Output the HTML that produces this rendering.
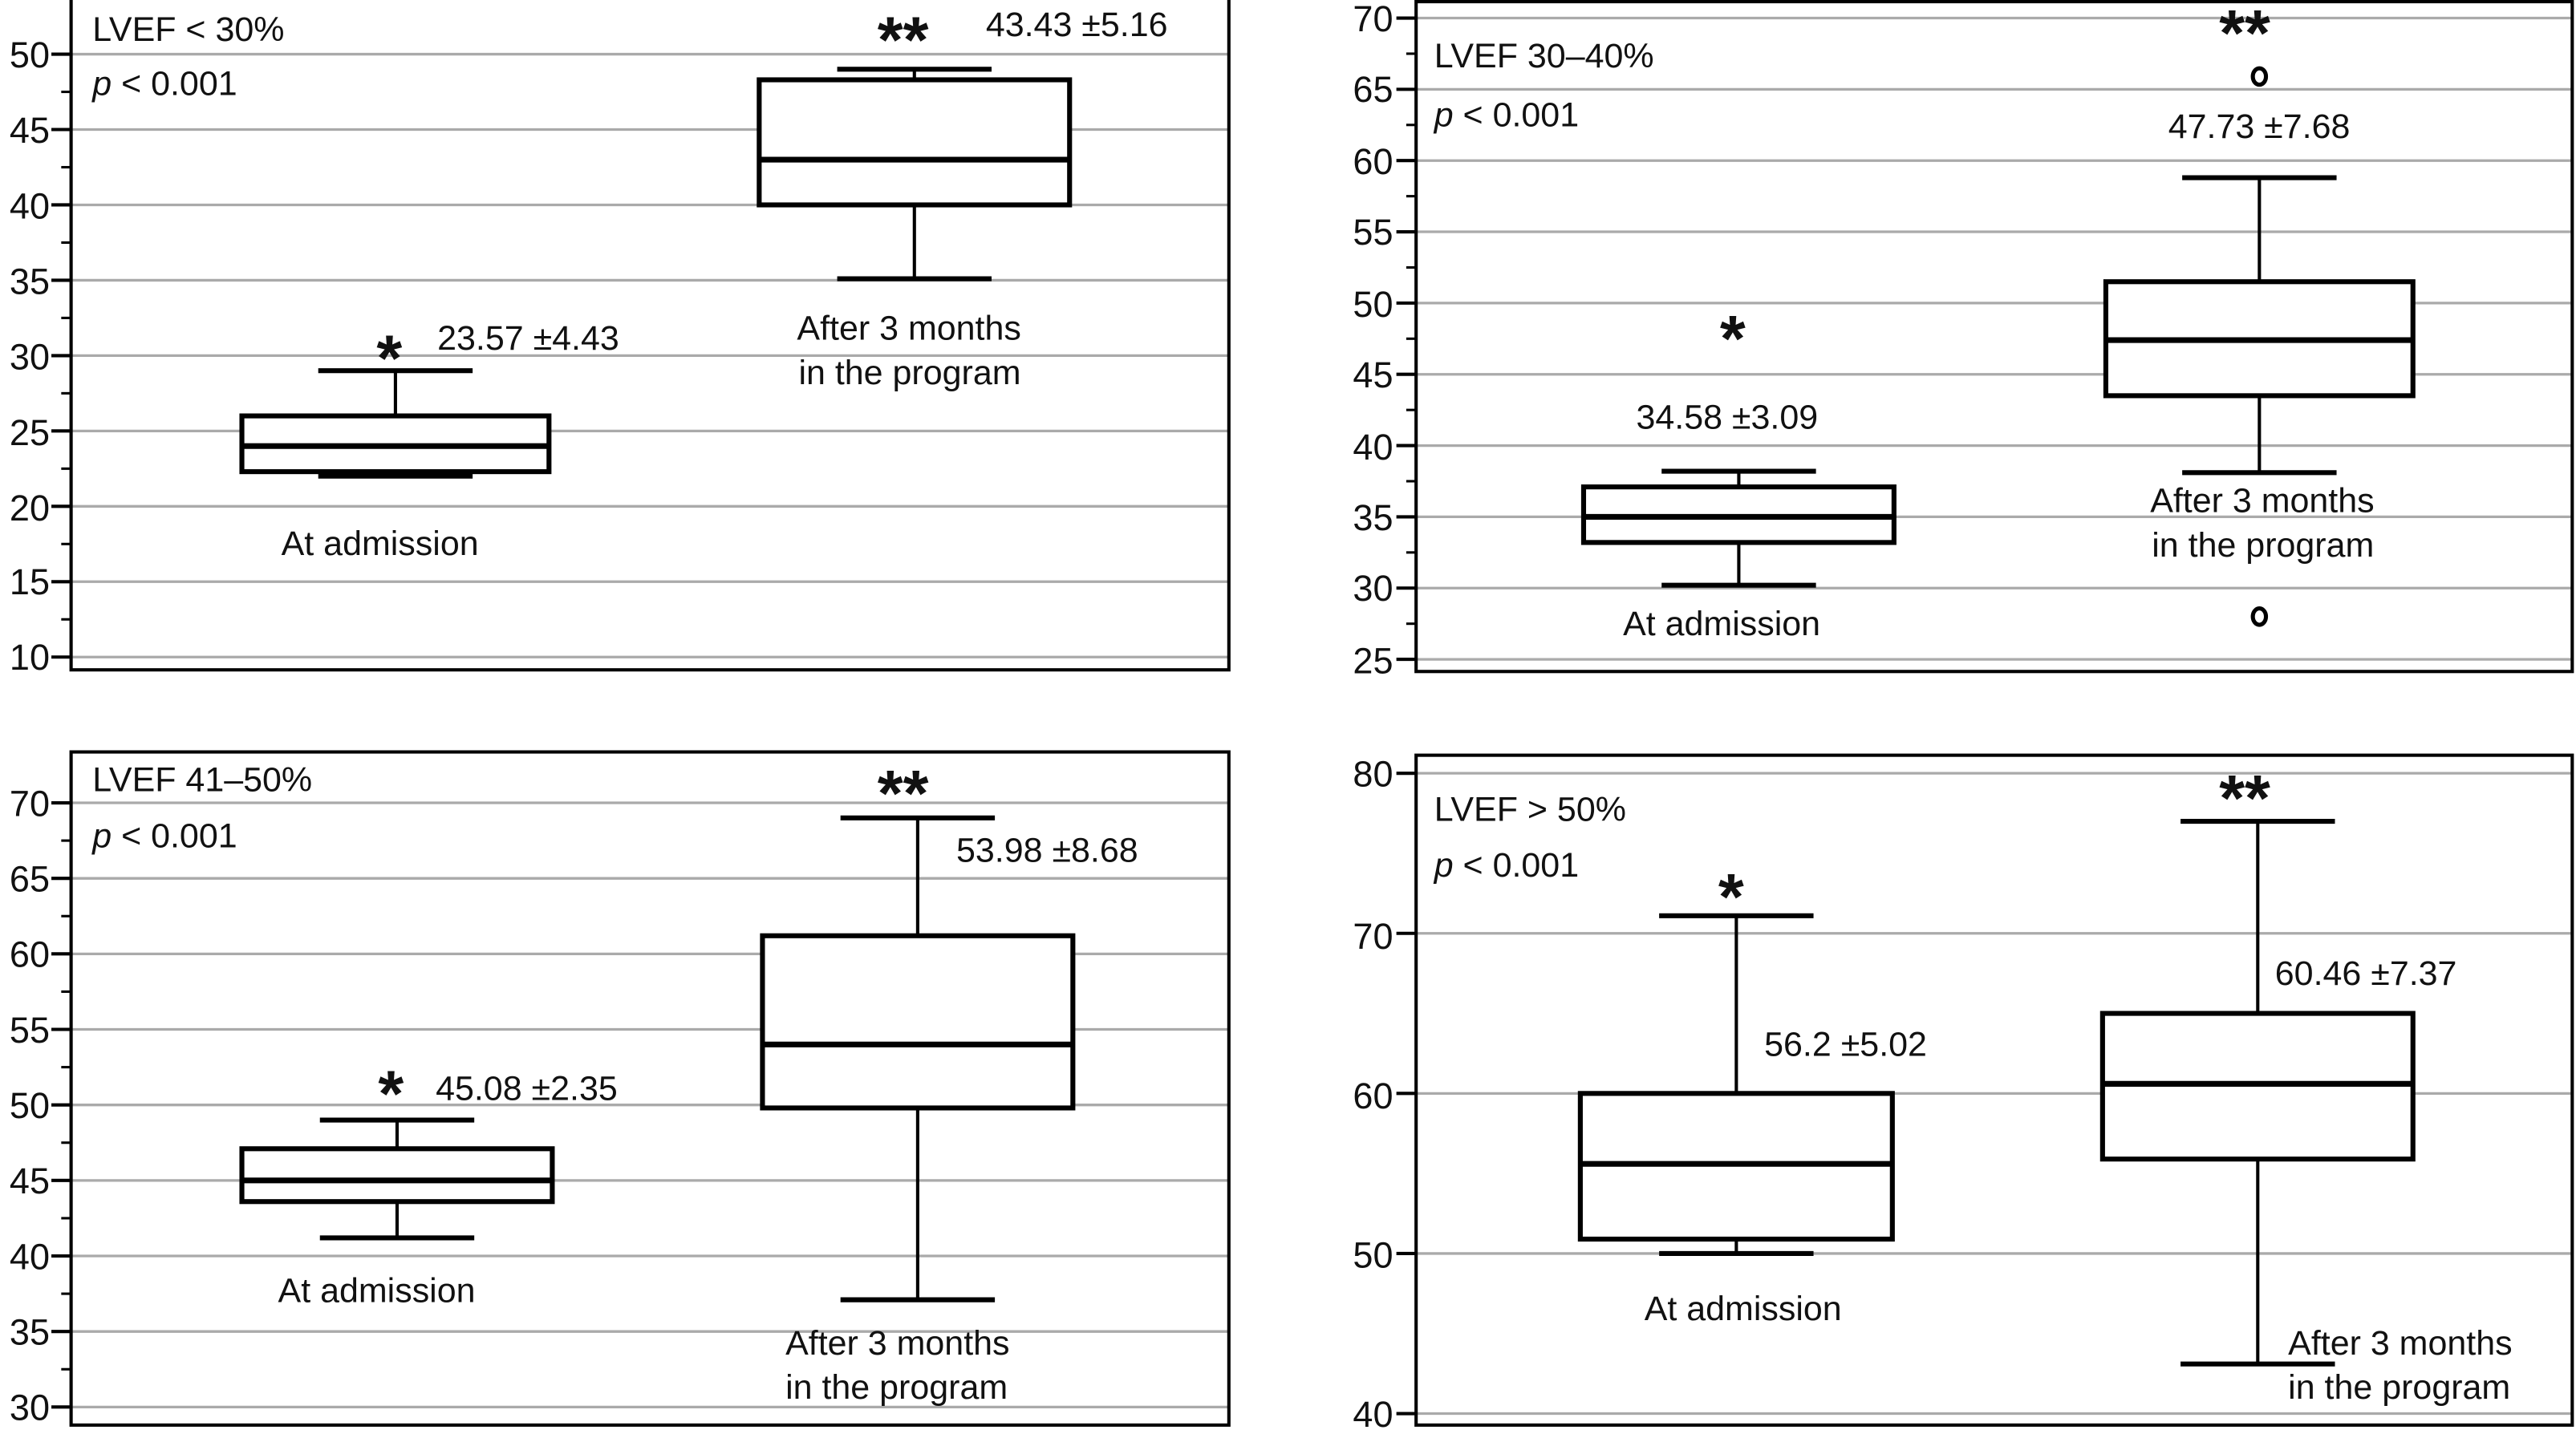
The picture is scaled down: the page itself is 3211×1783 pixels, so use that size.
<!DOCTYPE html>
<html><head><meta charset="utf-8"><style>
html,body{margin:0;padding:0;background:#fff}
svg{display:block}
text{font-family:"Liberation Sans",sans-serif;font-size:21px;fill:#111}
.t{font-size:22px;text-anchor:end}
.st{font-size:40px;font-weight:bold}
</style></head><body>
<svg id="s" width="3211" height="1783" viewBox="0 0 1568 871" xmlns="http://www.w3.org/2000/svg">
<g id="g"></g>
<!-- Panel 1 -->
<text class="t" x="30" y="41">50</text><text class="t" x="30" y="87">45</text><text class="t" x="30" y="133">40</text><text class="t" x="30" y="179">35</text><text class="t" x="30" y="225">30</text><text class="t" x="30" y="271">25</text><text class="t" x="30" y="317">20</text><text class="t" x="30" y="362">15</text><text class="t" x="30" y="408">10</text>
<text x="56" y="25" font-size="23">LVEF &lt; 30%</text>
<text x="56" y="58" font-size="23"><tspan font-style="italic">p</tspan> &lt; 0.001</text>
<text class="st" x="229" y="232">*</text><text x="266" y="213">23.57 ±4.43</text>
<text x="171" y="338">At admission</text>
<text class="st" x="534" y="38">**</text><text x="600" y="22">43.43 ±5.16</text>
<text x="485" y="207">After 3 months</text><text x="486" y="234">in the program</text>
<!-- Panel 2 -->
<text class="t" x="848" y="19">70</text><text class="t" x="848" y="62">65</text><text class="t" x="848" y="106">60</text><text class="t" x="848" y="149">55</text><text class="t" x="848" y="193">50</text><text class="t" x="848" y="236">45</text><text class="t" x="848" y="280">40</text><text class="t" x="848" y="323">35</text><text class="t" x="848" y="366">30</text><text class="t" x="848" y="410">25</text>
<text x="873" y="41" font-size="23">LVEF 30–40%</text>
<text x="873" y="77" font-size="23"><tspan font-style="italic">p</tspan> &lt; 0.001</text>
<text class="st" x="1047" y="220">*</text><text x="996" y="261">34.58 ±3.09</text>
<text x="988" y="387">At admission</text>
<text class="st" x="1351" y="34">**</text><text x="1320" y="84">47.73 ±7.68</text>
<text x="1309" y="312">After 3 months</text><text x="1310" y="339">in the program</text>
<!-- Panel 3 -->
<text class="t" x="30" y="497">70</text><text class="t" x="30" y="543">65</text><text class="t" x="30" y="589">60</text><text class="t" x="30" y="635">55</text><text class="t" x="30" y="681">50</text><text class="t" x="30" y="727">45</text><text class="t" x="30" y="773">40</text><text class="t" x="30" y="819">35</text><text class="t" x="30" y="865">30</text>
<text x="56" y="482" font-size="23">LVEF 41–50%</text>
<text x="56" y="516" font-size="23"><tspan font-style="italic">p</tspan> &lt; 0.001</text>
<text class="st" x="230" y="680">*</text><text x="265" y="670">45.08 ±2.35</text>
<text x="169" y="793">At admission</text>
<text class="st" x="534" y="497">**</text><text x="582" y="525">53.98 ±8.68</text>
<text x="478" y="825">After 3 months</text><text x="478" y="852">in the program</text>
<!-- Panel 4 -->
<text class="t" x="848" y="479">80</text><text class="t" x="848" y="578">70</text><text class="t" x="848" y="675">60</text><text class="t" x="848" y="772">50</text><text class="t" x="848" y="869">40</text>
<text x="873" y="500" font-size="23">LVEF &gt; 50%</text>
<text x="873" y="534" font-size="23"><tspan font-style="italic">p</tspan> &lt; 0.001</text>
<text class="st" x="1046" y="560">*</text><text x="1074" y="643">56.2 ±5.02</text>
<text x="1001" y="804">At admission</text>
<text class="st" x="1351" y="500">**</text><text x="1385" y="600">60.46 ±7.37</text>
<text x="1393" y="825">After 3 months</text><text x="1393" y="852">in the program</text>
</svg>
<script>
var g=document.getElementById('g'),NS='http://www.w3.org/2000/svg';
function el(n,a){var e=document.createElementNS(NS,n);for(var k in a)e.setAttribute(k,a[k]);g.appendChild(e);return e;}
function line(x1,y1,x2,y2,c,w){el('line',{x1:x1,y1:y1,x2:x2,y2:y2,stroke:c,'stroke-width':w});}
function panel(p){
 var Y=function(v){return p.y0+(p.vmax-v)*p.k;};
 for(var v=p.vmin;v<=p.vmax+1e-9;v+=p.step){line(p.x1,Y(v),p.x2,Y(v),'#aaa',1.6);line(p.x1-12,Y(v),p.x1,Y(v),'#000',2);}
 if(p.minor)for(var v=p.vmin+p.step/2;v<p.vmax;v+=p.step)line(p.x1-6,Y(v),p.x1,Y(v),'#000',1.5);
 el('rect',{x:p.x1,y:p.ft,width:p.x2-p.x1,height:p.fb-p.ft,fill:'none',stroke:'#000','stroke-width':2});
 p.boxes.forEach(function(b){
  var c=(b.l+b.r)/2;
  line(c,Y(b.wl),c,Y(b.wh),'#000',2);
  line(c-47,Y(b.wl),c+47,Y(b.wl),'#000',3);line(c-47,Y(b.wh),c+47,Y(b.wh),'#000',3);
  el('rect',{x:b.l,y:Y(b.q3),width:b.r-b.l,height:Y(b.q1)-Y(b.q3),fill:'#fff',stroke:'#000','stroke-width':3});
  line(b.l,Y(b.md),b.r,Y(b.md),'#000',3.5);
  (b.out||[]).forEach(function(o){el('ellipse',{cx:c,cy:Y(o),rx:4,ry:5,fill:'none',stroke:'#000','stroke-width':2.5});});
 });
}
panel({x1:43,x2:748,ft:-1,fb:408,vmin:10,vmax:50,step:5,y0:33,k:9.18,minor:1,boxes:[
 {l:147,r:334,wl:22,wh:29,q1:22.3,q3:26,md:24},{l:462,r:651,wl:35.1,wh:49,q1:40,q3:48.3,md:43}]});
panel({x1:862,x2:1566,ft:1,fb:409,vmin:25,vmax:70,step:5,y0:11,k:8.68,minor:1,boxes:[
 {l:964,r:1153,wl:30.2,wh:38.2,q1:33.2,q3:37.1,md:35},{l:1282,r:1469,wl:38.1,wh:58.8,q1:43.5,q3:51.5,md:47.4,out:[65.9,28]}]});
panel({x1:43,x2:748,ft:458,fb:868,vmin:30,vmax:70,step:5,y0:489,k:9.2,minor:1,boxes:[
 {l:147,r:336,wl:41.2,wh:49,q1:43.6,q3:47.1,md:45},{l:464,r:653,wl:37.1,wh:69,q1:49.8,q3:61.2,md:54}]});
panel({x1:862,x2:1566,ft:460,fb:868,vmin:40,vmax:80,step:10,y0:471,k:9.75,minor:0,boxes:[
 {l:962,r:1152,wl:50,wh:71.1,q1:50.9,q3:60,md:55.6},{l:1280,r:1469,wl:43.1,wh:77,q1:55.9,q3:65,md:60.6}]});
</script>
</body></html>
